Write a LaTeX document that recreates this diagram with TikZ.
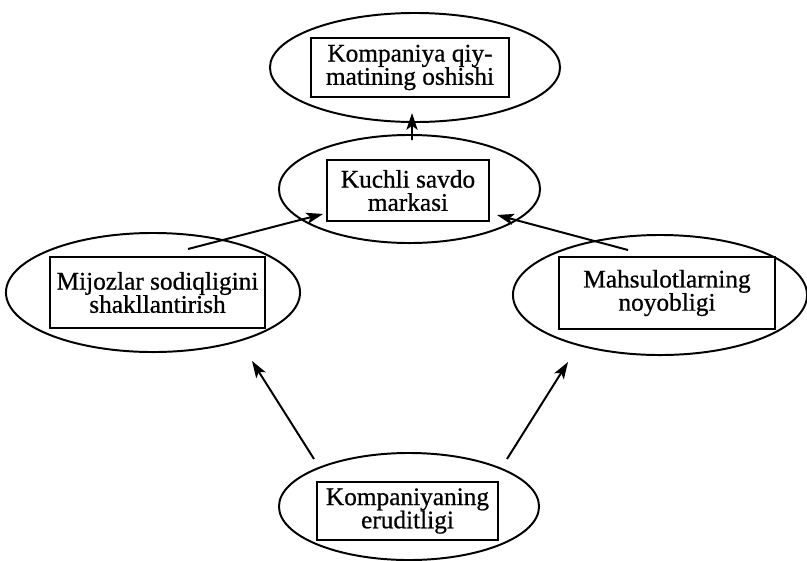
\documentclass[tikz,border=0pt]{standalone}
\usepackage{fontspec}
\setmainfont{Liberation Serif}[FakeBold=0.7]
\usetikzlibrary{shapes.geometric,arrows.meta}

\begin{document}
\begin{tikzpicture}[x=0.025cm, y=-0.025cm,
  oval/.style={ellipse, draw, line width=1.4pt, inner sep=0pt},
  box/.style={draw, line width=1.6pt, inner sep=0pt, align=center,
    font=\fontsize{18}{16.5}\selectfont},
  arr/.style={line width=1.4pt, -{Stealth[length=4.2mm, width=2.8mm, inset=1mm]}}]
\useasboundingbox (0,0) rectangle (807,560);

% ellipses
\node[oval, minimum width=7.25cm, minimum height=2.725cm] (qiymate) at (415,67.5) {};
\node[oval, minimum width=6.525cm, minimum height=2.7cm] (savdoe) at (409.5,189) {};
\node[oval, minimum width=7.35cm, minimum height=2.975cm] (mijoze) at (153,292.5) {};
\node[oval, minimum width=7.35cm, minimum height=3cm] (mahsule) at (660,295) {};
\node[oval, minimum width=6.5cm, minimum height=2.675cm] (erudite) at (409,506.5) {};

% boxes
\node[box, minimum width=4.95cm, minimum height=1.475cm] (qiymat) at (410,67.5) {Kompaniya qiy-\\matining oshishi};
\node[box, minimum width=4.05cm, minimum height=1.525cm] (savdo) at (408,190.5) {Kuchli savdo\\markasi};
\node[box, minimum width=5.375cm, minimum height=1.775cm] (mijoz) at (157.5,292.5) {Mijozlar sodiqligini\\shakllantirish};
\node[box, minimum width=5.4cm, minimum height=1.8cm] (mahsul) at (667,293) {Mahsulotlarning\\noyobligi};
\node[box, minimum width=4.525cm, minimum height=1.45cm] (erudit) at (407.5,511) {Kompaniyaning\\eruditligi};

% arrows
\draw[arr] ([shift={(2.5,-49)}]savdoe.center) -- ([shift={(-3,-10)}]qiymate.south);
\draw[arr] ([shift={(35,-43.5)}]mijoze.center) -- ([shift={(-85,23.5)}]savdo.center);
\draw[arr] ([shift={(-32,-45)}]mahsule.center) -- ([shift={(89,24.5)}]savdo.center);
\draw[arr] ([shift={(-95,-47.5)}]erudite.center) -- ([shift={(99,68.5)}]mijoze.center);
\draw[arr] ([shift={(98,-47.5)}]erudite.center) -- ([shift={(-92,67)}]mahsule.center);
\end{tikzpicture}
\end{document}
